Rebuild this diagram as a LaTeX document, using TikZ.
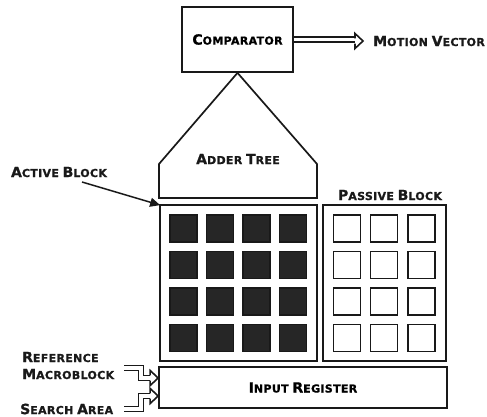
\documentclass[tikz,border=0pt]{standalone}
\usepackage{fontspec}
\setmainfont{DejaVu Sans}[LetterSpace=3, BoldFeatures={FakeBold=1}]
\usetikzlibrary{arrows.meta,calc}
\newcommand\smc[2]{{\fontsize{14}{15}\selectfont #1}{\fontsize{11}{12}\selectfont #2}}
\begin{document}
\begin{tikzpicture}[x=1pt,y=-1pt,
  box/.style={draw=black!90, line width=1.7pt, inner sep=0pt, font=\bfseries},
  dsq/.style={draw=black!90, fill=black!85, line width=1.2pt, minimum width=27, minimum height=27, inner sep=0pt},
  psq/.style={draw=black!90, fill=white, line width=1.5pt, minimum width=27, minimum height=27, inner sep=0pt},
  lbl/.style={font=\bfseries, inner sep=0pt, text=black!90},
  dbl/.style={draw=black!90, double=white, line width=1.6pt, double distance=3.6pt, line join=miter},
  ohead/.pic={\draw[black!90, line width=1.6pt, line join=miter] (-8,-2.6) -- (-8,-7.5) -- (0,0) -- (-8,7.5) -- (-8,2.6);}
]
\useasboundingbox (0,0) rectangle (487,417);

% comparator
\node[box, minimum width=111, minimum height=65] (comp) at (237.5,39.5) {\smc{C}{OMPARATOR}};

% motion vector
\node[lbl, anchor=west] (mv) at (373,41) {\smc{M}{OTION} \smc{V}{ECTOR}};
\coordinate (mvbase) at ($(mv.west)+(-18,0)$);
\draw[dbl] (comp.east) -- (comp.east -| mvbase);
\pic at ($(mv.west)+(-10,0)$) {ohead};

% adder tree
\coordinate (apex) at (comp.south);
\draw[black!90, line width=1.7pt, line join=miter] (apex) -- (317,164) -- (317,198) -- (159,198) -- (159,164) -- cycle;
\node[lbl] (adder) at (238,159) {\smc{A}{DDER} \smc{T}{REE}};

% active block
\node[box, minimum width=157, minimum height=156] (act) at (238.5,283) {};
\foreach \i in {0,...,3}
  \foreach \j in {0,...,3}
    \node[dsq] (a-\i-\j) at (183.5+36.5*\i, 228.5+36.5*\j) {};

% passive block
\node[box, minimum width=123, minimum height=156] (pas) at (384.5,283) {};
\foreach \i in {0,...,2}
  \foreach \j in {0,...,3}
    \node[psq] (p-\i-\j) at (347+37.2*\i, 228.5+36.5*\j) {};
\node[lbl] (paslbl) at (390,195) {\smc{P}{ASSIVE} \smc{B}{LOCK}};

% active block label and arrow
\node[lbl] (actlbl) at (59,172) {\smc{A}{CTIVE} \smc{B}{LOCK}};
\coordinate (acttail) at (82,182);
\draw[black!90, line width=1.5pt, -{Triangle[length=10pt,width=9pt]}] (acttail) -- ($(act.north west)+(1,1)$);

% input register
\node[box, minimum width=288, minimum height=41] (reg) at (303,387.5) {\smc{I}{NPUT} \smc{R}{EGISTER}};

% inputs
\node[lbl, anchor=west] (ref1) at (22,357) {\smc{R}{EFERENCE}};
\node[lbl, anchor=west] (ref2) at (22,374) {\smc{M}{ACROBLOCK}};
\node[lbl, anchor=west] (srch) at (20,409) {\smc{S}{EARCH} \smc{A}{REA}};
\coordinate (refend) at (124,368);
\coordinate (srchend) at (124,409);
\draw[dbl] (refend) -- (141,368) |- ($(reg.west)+(-8,-9.5)$);
\draw[dbl] (srchend) -- (141,409) |- ($(reg.west)+(-8,8.5)$);
\pic at ($(reg.west)+(0,-9.5)$) {ohead};
\pic at ($(reg.west)+(0,8.5)$) {ohead};
\end{tikzpicture}
\end{document}
